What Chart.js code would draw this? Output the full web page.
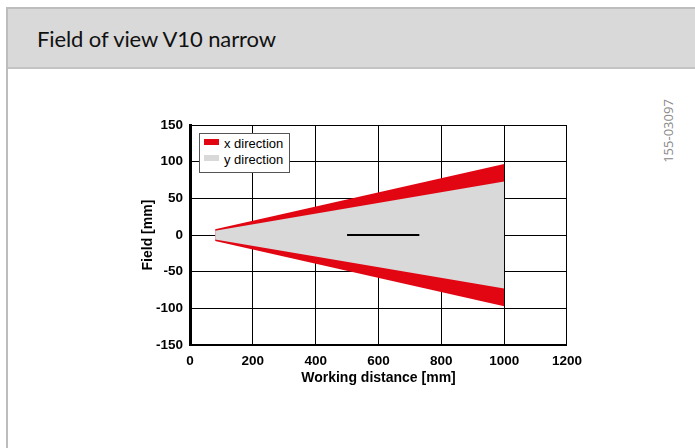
<!DOCTYPE html>
<html>
<head>
<meta charset="utf-8">
<script src="https://cdn.jsdelivr.net/npm/chart.js@4/dist/chart.umd.min.js"></script>
<style>
  body { margin: 0; width: 695px; height: 448px; background: #fff; position: relative; overflow: hidden; font-family: "Liberation Sans", Arial, sans-serif; }
  #panel { position: absolute; left: 6px; top: 7px; width: 720px; height: 460px; border-left: 2px solid #bdbdbd; border-top: 2px solid #bdbdbd; }
  #header { position: absolute; left: 0; top: 0; right: 0; height: 58px; background: #d9d9d9; border-bottom: 2px solid #c4c4c4; }
  #header span { position: absolute; left: 29px; top: 16px; font-family: Lato, "Open Sans", sans-serif; font-size: 22px; letter-spacing: -0.1px; color: #111; }
  #code { position: absolute; left: 668px; top: 131px; transform: translate(-50%, -50%) rotate(-90deg); font-family: "Open Sans", sans-serif; font-size: 13px; color: #888; white-space: nowrap; }
  #wrap { position: absolute; left: 140px; top: 110px; width: 450px; height: 280px; }
  #legend { position: absolute; left: 199px; top: 133px; width: 89px; height: 38px; border: 1px solid #555; background: #fff; font-size: 13px; }
  #legend div { position: absolute; left: 4px; height: 16px; line-height: 16px; white-space: nowrap; }
  #legend i { display: inline-block; width: 15px; height: 6px; margin-right: 5px; vertical-align: 3px; }
</style>
</head>
<body>
<div id="panel"><div id="header"><span>Field of view V10 narrow</span></div></div>
<div id="code">155-03097</div>
<div id="wrap"><canvas id="chart"></canvas></div>
<div id="legend">
  <div style="top:2px"><i style="background:#e20613"></i>x direction</div>
  <div style="top:18px"><i style="background:#d9d9d9"></i>y direction</div>
</div>
<script>
const distance = [80, 1000];
const xHalf = [8, 97];
const yHalf = [6, 73];
const markDistance = [500, 730];
const markField = [0, 0];
const xTicks = [0, 200, 400, 600, 800, 1000, 1200];
const yTicks = [-150, -100, -50, 0, 50, 100, 150];

const RED = "#e20613";
const GRAY = "#d9d9d9";
const FONT = "'Liberation Sans', Arial, sans-serif";

const pts = (xs, ys, sign) => xs.map((d, i) => ({ x: d, y: sign * ys[i] }));

const chart = new Chart(document.getElementById("chart"), {
  type: "scatter",
  data: {
    datasets: [
      { label: "mark", data: pts(markDistance, markField, 1), showLine: true, borderColor: "#000", borderWidth: 2, pointRadius: 0, fill: false, order: 0 },
      { label: "y top", data: pts(distance, yHalf, 1), showLine: true, borderColor: GRAY, borderWidth: 0, pointRadius: 0, backgroundColor: GRAY, fill: "+1", order: 1 },
      { label: "y bottom", data: pts(distance, yHalf, -1), showLine: true, borderColor: GRAY, borderWidth: 0, pointRadius: 0, fill: false, order: 1 },
      { label: "x top", data: pts(distance, xHalf, 1), showLine: true, borderColor: RED, borderWidth: 0, pointRadius: 0, backgroundColor: RED, fill: "+1", order: 2 },
      { label: "x bottom", data: pts(distance, xHalf, -1), showLine: true, borderColor: RED, borderWidth: 0, pointRadius: 0, fill: false, order: 2 },
    ],
  },
  options: {
    responsive: true,
    maintainAspectRatio: false,
    animation: false,
    layout: { padding: { top: 15, right: 22, bottom: 0, left: 0 } },
    plugins: { legend: { display: false }, tooltip: { enabled: false } },
    scales: {
      x: {
        type: "linear",
        min: 0,
        max: 1200,
        afterBuildTicks: (s) => { s.ticks = xTicks.map((v) => ({ value: v })); },
        afterFit: (s) => { s.height = 45; },
        grid: { color: "#000", lineWidth: 1, drawTicks: false },
        border: { color: "#000", width: 2 },
        ticks: { color: "#000", padding: 8, callback: (v) => String(v), font: { family: FONT, size: 13.5, weight: "bold" } },
        title: { display: true, text: "Working distance [mm]", color: "#000", padding: { top: 0, bottom: 3 }, font: { family: FONT, size: 14, weight: "bold" } },
      },
      y: {
        min: -150,
        max: 150,
        afterBuildTicks: (s) => { s.ticks = yTicks.map((v) => ({ value: v })); },
        afterFit: (s) => { s.width = 50; },
        grid: { color: "#000", lineWidth: 1, drawTicks: false },
        border: { color: "#000", width: 3 },
        ticks: { color: "#000", padding: 7, callback: (v) => String(v), font: { family: FONT, size: 13.5, weight: "bold" } },
        title: { display: true, text: "Field [mm]", color: "#000", padding: 0, font: { family: FONT, size: 14, weight: "bold" } },
      },
    },
  },
});
</script>
</body>
</html>
